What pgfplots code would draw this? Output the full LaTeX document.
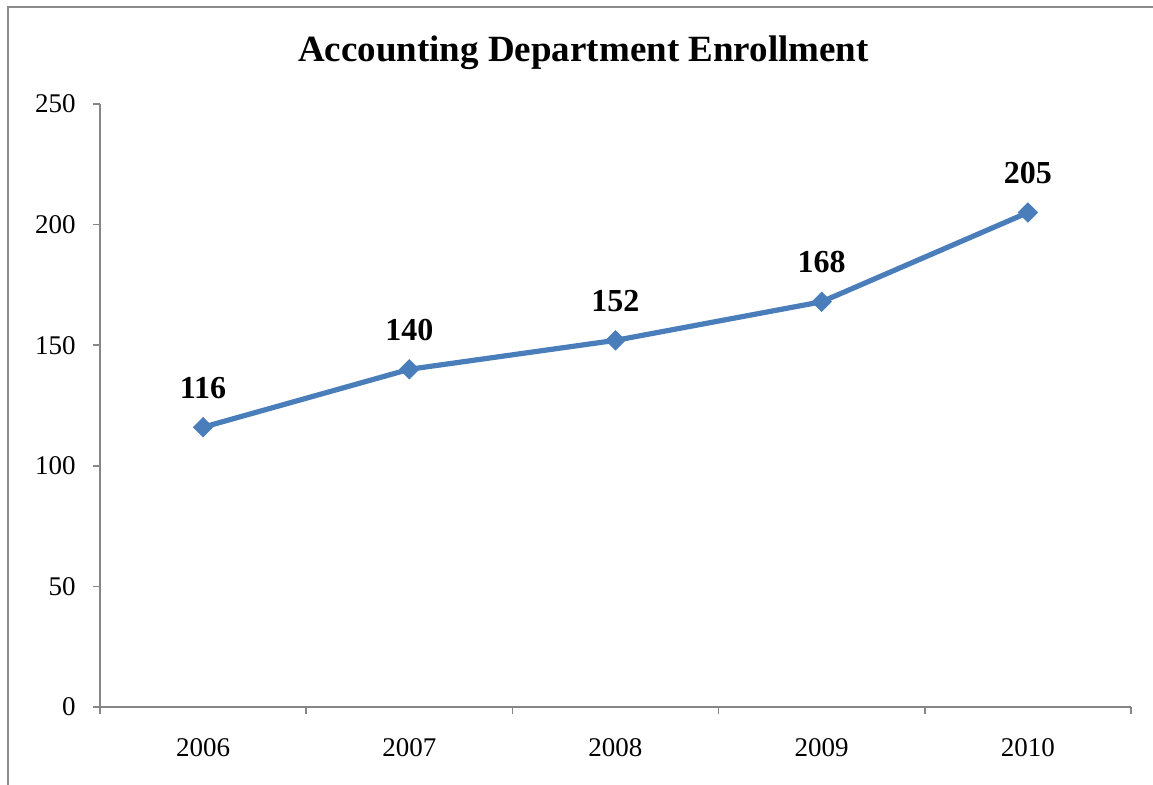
\documentclass[border=0pt]{standalone}
\usepackage{pgfplots}
\pgfplotsset{compat=1.18}
\usepackage{fontspec}
\setmainfont{Liberation Serif}
\definecolor{lineblue}{HTML}{4A7EBB}
\definecolor{axgray}{HTML}{868686}
\definecolor{framegray}{HTML}{8C8C8C}
\begin{document}
\begin{tikzpicture}
\useasboundingbox (-50pt,-39pt) rectangle (526.5pt,353.5pt);
\draw[framegray, line width=1pt] (-46pt,-45pt) -- (-46pt,350pt) -- (540pt,350pt);
\begin{axis}[
  at={(0pt,0pt)}, anchor=south west,
  scale only axis,
  width=515.5pt, height=301.5pt,
  xmin=-0.5, xmax=4.5, ymin=0, ymax=250,
  enlargelimits=false,
  axis x line*=bottom, axis y line*=left,
  axis line style={-, axgray, line width=0.75pt},
  xtick={0,1,2,3,4},
  xticklabels={2006,2007,2008,2009,2010},
  major x tick style={draw=none},
  extra x ticks={-0.5,0.5,1.5,2.5,3.5,4.5},
  extra x tick labels={},
  extra x tick style={major tick length=3.5pt, tick align=outside, major x tick style={draw=axgray, line width=0.75pt}},
  ytick={0,50,100,150,200,250},
  tick align=outside,
  major tick length=3.5pt,
  tick style={axgray, line width=0.75pt},
  /pgf/number format/assume math mode=true,
  /pgf/number format/1000 sep={},
  ticklabel style={font=\fontsize{13.5}{16}\selectfont, text=black},
  xticklabel style={anchor=base, inner sep=0pt, yshift=-21.5pt},
  yticklabel style={anchor=east, inner sep=0pt, xshift=-8.5pt},
  nodes near coords,
  every node near coord/.append style={anchor=base, inner sep=0pt, yshift=14.5pt, font=\fontsize{16}{19}\selectfont\bfseries, text=black},
  clip=false,
]
\addplot[lineblue, line width=2.6pt, mark=square*, mark size=3.4pt,
  mark options={solid, rotate=45, line width=0.4pt, fill=lineblue, draw=lineblue}]
  coordinates {(0,116) (1,140) (2,152) (3,168) (4,205)};
\end{axis}
\node[anchor=base, inner sep=0pt, font=\fontsize{18.5}{22}\selectfont\bfseries] at (241.75pt,322.5pt) {Accounting Department Enrollment};
\end{tikzpicture}
\end{document}
